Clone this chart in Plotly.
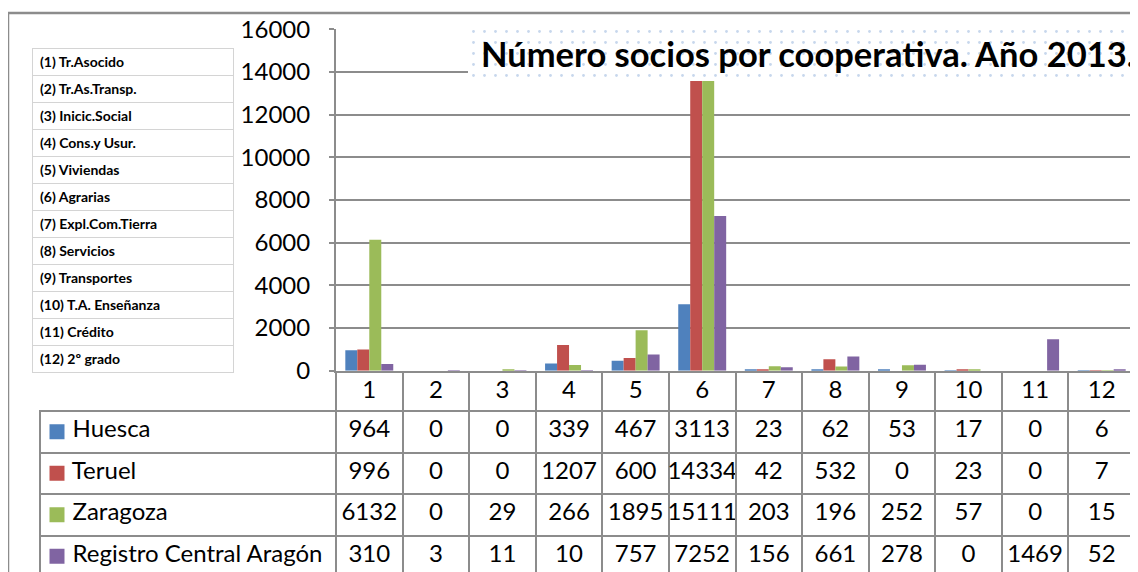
import plotly.graph_objects as go

# ---------------- data ----------------
categories = [1, 2, 3, 4, 5, 6, 7, 8, 9, 10, 11, 12]
cat_labels = ["1", "2", "3", "4", "5", "6", "7", "8", "9", "10", "11", "12"]
series_names = ["Huesca", "Teruel", "Zaragoza", "Registro Central Aragón"]
huesca = [964, 0, 0, 339, 467, 3113, 23, 62, 53, 17, 0, 6]
teruel = [996, 0, 0, 1207, 600, 14334, 42, 532, 0, 23, 0, 7]
zaragoza = [6132, 0, 29, 266, 1895, 15111, 203, 196, 252, 57, 0, 15]
registro = [310, 3, 11, 10, 757, 7252, 156, 661, 278, 0, 1469, 52]
coop_types = ["(1) Tr.Asocido", "(2) Tr.As.Transp.", "(3) Inicic.Social", "(4) Cons.y Usur.",
              "(5) Viviendas", "(6) Agrarias", "(7) Expl.Com.Tierra", "(8) Servicios",
              "(9) Transportes", "(10) T.A. Enseñanza", "(11) Crédito", "(12) 2º grado"]
title_text = "Número socios por cooperativa. Año 2013."
y_ticks = [0, 2000, 4000, 6000, 8000, 10000, 12000, 14000, 16000]

colors = ["#4F81BD", "#C0504D", "#9BBB59", "#8064A2"]
series_values = [huesca, teruel, zaragoza, registro]

# page body has an 8px margin: the figure occupies pixels 8..1138 x 8..572 of the window
OFF = 8
W, H = 1138 - OFF, 572 - OFF
def px(x):
    return (x - OFF) / W
def py(y):
    return 1 - (y - OFF) / H

GRAY = "#8C8C8C"
FONT = "Lato, 'Open Sans', sans-serif"
NB = "\u00a0"

fig = go.Figure()

# ---------------- bars ----------------
for name, vals, col in zip(series_names, series_values, colors):
    fig.add_trace(go.Bar(x=categories, y=vals, name=name, marker=dict(color=col, line=dict(width=0)),
                         showlegend=False, hoverinfo="x+y+name"))

# ---------------- title box (dotted pattern) ----------------
fig.add_trace(go.Bar(x=[0], y=[1], width=[1], xaxis="x3", yaxis="y3", showlegend=False,
                     hoverinfo="skip",
                     marker=dict(color="white", line=dict(width=0),
                                 pattern=dict(shape=".", fgcolor="#8FB0DA", bgcolor="white",
                                              size=11, solidity=0.05))))

# ---------------- legend keys of the data table ----------------
fig.add_trace(go.Scatter(x=[0] * len(series_names), y=series_names, mode="markers",
                         xaxis="x4", yaxis="y4", showlegend=False, hoverinfo="skip",
                         marker=dict(symbol="square", size=15, color=colors, line=dict(width=0))))

# ---------------- data table ----------------
lead = NB * 4
header_vals = [lead + series_names[0].replace(" ", NB)] + [str(v) for v in huesca]
cell_cols = [[lead + n.replace(" ", NB) for n in series_names[1:]]]
for i in range(len(categories)):
    cell_cols.append([str(teruel[i]), str(zaragoza[i]), str(registro[i])])

col_w = (1135 - 336) / 12
fig.add_trace(go.Table(
    domain=dict(x=[px(40), px(1135)], y=[0, py(411)]),
    columnwidth=[296] + [col_w] * 12,
    header=dict(values=header_vals, align=["left"] + ["center"] * 12, height=41.5,
                fill=dict(color="rgba(0,0,0,0)"), line=dict(color=GRAY, width=2),
                font=dict(family=FONT, size=24, color="black")),
    cells=dict(values=cell_cols, align=["left"] + ["center"] * 12, height=41.5,
               fill=dict(color="rgba(0,0,0,0)"), line=dict(color=GRAY, width=2),
               font=dict(family=FONT, size=24, color="black")),
))

# ---------------- cooperative type list ----------------
types_nb = [t.replace(" ", NB) for t in coop_types]
fig.add_trace(go.Table(
    domain=dict(x=[px(32), px(233)], y=[py(374), py(48)]),
    columnwidth=[1],
    header=dict(values=[types_nb[0]], align="left", height=27,
                fill=dict(color="white"), line=dict(color="#D4D4D4", width=1),
                font=dict(family=FONT, size=14, color="black", weight="bold")),
    cells=dict(values=[types_nb[1:]], align="left", height=27,
               fill=dict(color="white"), line=dict(color="#D4D4D4", width=1),
               font=dict(family=FONT, size=14, color="black", weight="bold")),
))

row_h = 41.5
fig.update_layout(
    width=W, height=H,
    margin=dict(l=0, r=0, t=0, b=0, autoexpand=False),
    paper_bgcolor="white", plot_bgcolor="rgba(0,0,0,0)",
    barmode="group", bargap=0.28, bargroupgap=0,
    font=dict(family=FONT, color="black"),
    xaxis=dict(domain=[px(336), px(1135)], range=[0.5, 12.5], tickmode="array",
               tickvals=categories, ticktext=cat_labels, ticks="", automargin=False,
               showline=True, linecolor=GRAY, linewidth=2, showgrid=False, zeroline=False,
               tickfont=dict(family=FONT, size=24, color="black"), ticklabelstandoff=-4,
               minor=dict(tick0=0.5, dtick=1, ticks="outside", ticklen=40,
                          tickcolor=GRAY, tickwidth=2, showgrid=False),
               fixedrange=True),
    yaxis=dict(domain=[py(370.7), py(29.3)], range=[0, 16000], tickmode="array",
               tickvals=y_ticks, ticktext=[str(v) for v in y_ticks], automargin=False,
               showgrid=True, gridcolor=GRAY, gridwidth=1.5,
               showline=True, linecolor=GRAY, linewidth=2, zeroline=False,
               ticks="outside", ticklen=5, tickcolor=GRAY, tickwidth=1.5,
               ticklabelstandoff=14,
               tickfont=dict(family=FONT, size=24, color="black"), fixedrange=True),
    xaxis3=dict(domain=[px(468), 1], range=[-0.5, 0.5], visible=False, fixedrange=True,
                automargin=False),
    yaxis3=dict(domain=[py(81), py(26)], range=[0, 1], visible=False, fixedrange=True,
                automargin=False),
    xaxis4=dict(domain=[px(37), px(77)], range=[-1, 1], visible=False, fixedrange=True,
                automargin=False),
    yaxis4=dict(domain=[0, py(411)], type="category", categoryorder="array",
                categoryarray=series_names, range=[(572 - 411) / row_h - 0.5, -0.5],
                visible=False, fixedrange=True, automargin=False),
    shapes=[dict(type="rect", xref="paper", yref="paper", x0=px(8), x1=1.05,
                 y0=-0.05, y1=py(13), line=dict(color=GRAY, width=2.5), fillcolor="rgba(0,0,0,0)",
                 layer="above")],
    annotations=[dict(text="<b>" + title_text + "</b>", xref="paper", yref="paper",
                      x=px(1136.5), y=py(54), xanchor="right", yanchor="middle", showarrow=False,
                      font=dict(family=FONT, size=34.5, color="black"))],
)

fig.write_html("out.html")
